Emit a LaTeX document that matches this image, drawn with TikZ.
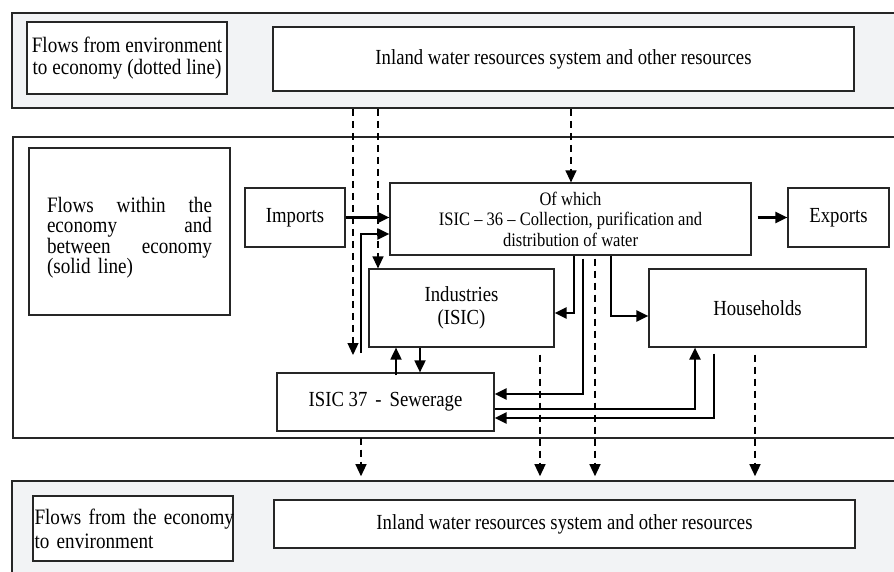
\documentclass[tikz,border=0pt]{standalone}
\usepackage{fontspec}
\setmainfont[FakeStretch=0.87]{Liberation Serif}
\usetikzlibrary{arrows.meta}
\definecolor{panelgray}{RGB}{242,243,245}
\begin{document}
\begin{tikzpicture}[x=1pt,y=-1pt,
  panel/.style={draw=black!85, line width=1.6pt, inner sep=0pt},
  box/.style={draw=black!85, line width=1.2pt, fill=white, inner sep=0pt, align=center,
    font=\fontsize{21.5}{21.5}\selectfont},
  lbl/.style={box, font=\fontsize{22}{22.5}\selectfont},
  solarr/.style={line width=2.2pt, -{Triangle[length=12pt,width=11pt]}},
  dasharr/.style={line width=1.3pt, dash pattern=on 7pt off 5pt, -{Triangle[length=12pt,width=11pt]}}
]
\useasboundingbox (0,0) rectangle (894,572);
% panels
\node[panel, fill=panelgray, minimum width=888pt, minimum height=95pt] (toppanel) at (456,60.5) {};
\node[panel, fill=white, minimum width=887pt, minimum height=301pt] (midpanel) at (456.5,287.5) {};
\node[panel, fill=panelgray, minimum width=888pt, minimum height=119pt] (botpanel) at (456,540.5) {};
% boxes
\node[lbl, minimum width=200pt, minimum height=72pt] (envlbl) at (127,58) {\raisebox{-2pt}{Flows from environment}\\\raisebox{-2pt}{to economy (dotted line)}};
\node[box, minimum width=581pt, minimum height=64pt] (inlandtop) at (563.5,59) {Inland water resources system and other resources};
\node[box, minimum width=201pt, minimum height=167pt] (within) at (129.5,231.5) {};
\node[font=\fontsize{22}{20.5}\selectfont, text width=165pt, align=left, inner sep=0pt] (withintext) at (within.center) [yshift=-6pt]
  {\makebox[165pt][l]{Flows\hfill within\hfill the}\\\makebox[165pt][l]{economy\hfill and}\\\makebox[165pt][l]{between\hfill economy}\\(solid line)};
\node[box, minimum width=100pt, minimum height=59pt] (imports) at (295,217.5) {Imports};
\node[box, minimum width=361pt, minimum height=72pt, font=\fontsize{19}{20.5}\selectfont] (isic36) at (570.5,219)
  {Of which\\ISIC – 36 – Collection, purification and\\distribution of water};
\node[box, minimum width=101pt, minimum height=59pt] (exports) at (838.5,217.5) {Exports};
\node[box, minimum width=185pt, minimum height=78pt, font=\fontsize{21.5}{23.5}\selectfont] (ind) at (461.5,308) {\raisebox{-2pt}{Industries}\\\raisebox{-2pt}{(ISIC)}};
\node[box, minimum width=217pt, minimum height=78pt] (hh) at (757.5,308) {Households};
\node[box, minimum width=217pt, minimum height=58pt] (sew) at (385.5,402) {ISIC 37\hspace{8pt}-\hspace{8pt}Sewerage};
\node[lbl, font=\fontsize{22}{24}\selectfont, minimum width=200pt, minimum height=65pt, text width=197pt, align=left] (botlbl) at (133,528.5)
  {\mbox{Flows from the economy}\\to environment};
\node[box, minimum width=581pt, minimum height=48pt] (inlandbot) at (564.5,524) {Inland water resources system and other resources};
% helper coordinates
\coordinate (d1end) at (353,355);
\coordinate (r0) at (361,353);
\coordinate (x361) at (361,0);
\coordinate (x378) at (378,0);
\coordinate (x396) at (396,0);
\coordinate (x420) at (420,0);
\coordinate (x540) at (540,0);
\coordinate (x571) at (571,0);
\coordinate (x574) at (574,0);
\coordinate (x583) at (583,0);
\coordinate (x595) at (595,0);
\coordinate (x611) at (611,0);
\coordinate (x695) at (695,0);
\coordinate (x714) at (714,0);
\coordinate (x755) at (755,0);
\coordinate (y234) at (0,234);
\coordinate (y313) at (0,313);
\coordinate (y316) at (0,316);
\coordinate (y394) at (0,394);
\coordinate (y409) at (0,409);
\coordinate (y418) at (0,418);
% dashed flows from environment
\draw[dasharr] (toppanel.south -| d1end) -- (d1end);
\draw[dasharr] (toppanel.south -| x378) -- (ind.north -| x378);
\draw[dasharr] (toppanel.south -| x571) -- (isic36.north -| x571);
% solid flows within economy
\draw[solarr] (imports.east) -- (imports.east -| isic36.west);
\draw[solarr] (r0) |- (isic36.west |- y234);
\draw[solarr, shorten <=6pt] (exports.west -| isic36.east) -- (exports.west);
\draw[solarr] (isic36.south -| x574) |- (ind.east |- y313);
\draw[solarr, shorten <=3pt] (isic36.south -| x583) |- (sew.east |- y394);
\draw[solarr] (isic36.south -| x611) |- (hh.west |- y316);
\draw[solarr] (sew.east |- y409) -| (hh.south -| x695);
\draw[solarr, shorten <=6pt] (hh.south -| x714) |- (sew.east |- y418);
\draw[solarr, line width=1.8pt, shorten <=-3pt] (sew.north -| x396) -- (ind.south -| x396);
\draw[solarr, line width=1.8pt] (ind.south -| x420) -- (sew.north -| x420);
% dashed flows to environment
\draw[dasharr, shorten <=3pt, shorten >=4pt] (isic36.south -| x595) -- (botpanel.north -| x595);
\draw[dasharr, shorten <=7pt, shorten >=4pt] (ind.south -| x540) -- (botpanel.north -| x540);
\draw[dasharr, shorten <=7pt, shorten >=4pt] (hh.south -| x755) -- (botpanel.north -| x755);
\draw[dasharr, shorten <=6pt, shorten >=4pt] (sew.south -| x361) -- (botpanel.north -| x361);
\end{tikzpicture}
\end{document}
